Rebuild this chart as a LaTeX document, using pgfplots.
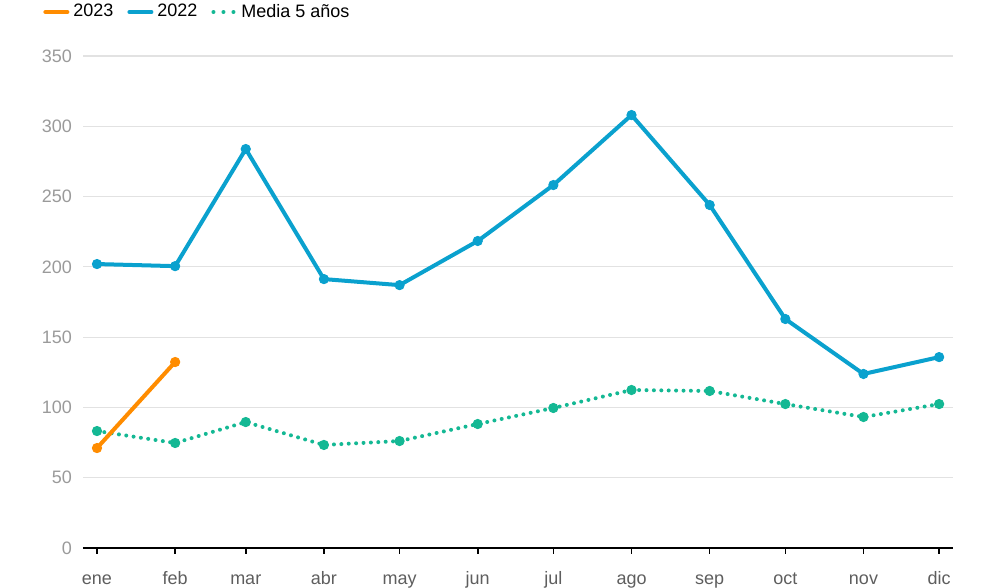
\documentclass[border=0pt]{standalone}
\usepackage{pgfplots}
\pgfplotsset{compat=1.18}
\usepackage{fontspec}
\setmainfont{Liberation Sans}
\definecolor{c23}{HTML}{FF8C00}
\definecolor{c22}{HTML}{0AA1CE}
\definecolor{cmed}{HTML}{14B894}
\definecolor{ylab}{HTML}{9A9A9A}
\definecolor{xlab}{HTML}{5E5E5E}
\definecolor{gridc}{HTML}{E2E2E2}
\begin{document}
\begin{tikzpicture}
\useasboundingbox (-41.5pt,-20pt) rectangle (458.5pt,274pt);
\begin{axis}[
  at={(0,0)}, anchor=south west,
  scale only axis, width=435pt, height=246pt,
  xmin=-5.55, xmax=339.5, ymin=0, ymax=350,
  axis x line*=bottom, axis y line*=left,
  y axis line style={draw=none},
  x axis line style={black, line width=1pt, -},
  xtick={0,31,59,90,120,151,181,212,243,273,304,334},
  xticklabels={ene,feb,mar,abr,may,jun,jul,ago,sep,oct,nov,dic},
  ytick={0,50,...,350},
  ymajorgrids, grid style={gridc, line width=0.6pt},
  major y tick style={draw=none},
  major x tick style={black, line width=0.8pt},
  tick align=outside, major tick length=3pt,
  /pgf/number format/assume math mode=true,
  yticklabel style={font=\fontsize{9}{10}\selectfont, text=ylab, xshift=1pt},
  xticklabel style={font=\fontsize{9}{10}\selectfont, text=xlab,
    anchor=base, yshift=-15pt, inner sep=0pt},
  legend columns=3,
  legend style={at={(-0.046,1.0894)}, anchor=west, draw=none, fill=none,
    inner sep=0pt, font=\fontsize{9}{10}\selectfont,
    /tikz/every even column/.append style={column sep=5pt}},
  legend image code/.code={\draw[#1] (0pt,0pt) -- (11pt,0pt);},
]
\addlegendimage{c23, line width=2pt, line cap=round}
\addlegendentry{2023}
\addlegendimage{c22, line width=2pt, line cap=round}
\addlegendentry{2022}
\addlegendimage{cmed, line width=2pt, line cap=round, dash pattern=on 0pt off 5pt}
\addlegendentry{Media 5 años}

\addplot[forget plot, cmed, line width=2pt, line cap=round, dash pattern=on 0pt off 3.7pt,
  mark=*, mark size=2.3pt, mark options={solid, fill=cmed, draw=cmed, line width=0.5pt}] coordinates {
(0,83.2) (31,74.7) (59,89.6) (90,73.3) (120,76.1) (151,88.2) (181,99.6) (212,112.4) (243,111.7) (273,102.4) (304,93.2) (334,102.4)};
\addplot[forget plot, c22, line width=2pt, line join=round,
  mark=*, mark size=2.3pt, mark options={fill=c22, draw=c22, line width=0.5pt}] coordinates {
(0,202) (31,200.5) (59,283.8) (90,191.3) (120,187) (151,218.4) (181,258.2) (212,308) (243,244) (273,162.9) (304,123.8) (334,135.8)};
\addplot[forget plot, c23, line width=2pt,
  mark=*, mark size=2.3pt, mark options={fill=c23, draw=c23, line width=0.5pt}] coordinates {
(0,71.1) (31,132.3)};
\end{axis}
\end{tikzpicture}
\end{document}
